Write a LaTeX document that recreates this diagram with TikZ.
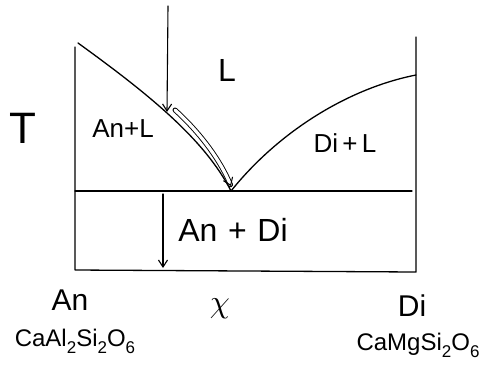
\documentclass[tikz,border=0pt]{standalone}
\usepackage{fontspec}
\setmainfont{Liberation Sans}
\usetikzlibrary{arrows.meta}
\newcommand\mysub[1]{\raisebox{-0.3em}{\fontsize{17}{17}\selectfont #1}}
\begin{document}
\begin{tikzpicture}[x=1pt,y=-1pt,
  ln/.style={line width=1.3pt, line cap=round, line join=round},
  thin/.style={line width=1.1pt, line cap=round},
  arr/.style={thin, -{Straight Barb[length=7pt,width=9pt,line width=1.1pt]}},
  lbl/.style={inner sep=0pt, font=\fontsize{#1}{#1}\selectfont},
]
\useasboundingbox (0,0) rectangle (484,373);
% frame
\coordinate (lt) at (75,47);
\coordinate (lb) at (75,270);
\coordinate (rt) at (416,37);
\coordinate (rb) at (416,272);
\coordinate (el) at (75,191);
\coordinate (er) at (412,191);
\coordinate (E) at (231,191);
\coordinate (Atop) at (78,43);
\coordinate (Dtop) at (416,75);
\draw[ln] (lt) -- (lb) -- (rb) -- (rt);
\draw[thin] (el) -- (er);
% liquidus curves
\draw[ln] (Atop) .. controls (150,95) and (205,140) .. (E);
\draw[ln] (E) .. controls (280,130) and (350,88) .. (Dtop);
% arrows
\coordinate (a1s) at (168,6);
\coordinate (a1e) at (167,112);
\draw[arr] (a1s) -- (a1e);
\coordinate (a2s) at (175,110);
\coordinate (a2e) at (231,186);
\draw[line width=0.9pt, double distance=3.2pt, line cap=round,
  -{Straight Barb[length=7pt,width=10pt,line width=1pt]}] (a2s) .. controls (195,128) and (218,155) .. (a2e);
\coordinate (a3s) at (163,194);
\coordinate (a3e) at (163,268);
\draw[arr] (a3s) -- (a3e);
% labels
\node[lbl=32] (L) at (227,70) {L};
\node[lbl=26] (AnL) at (123,129) {An+L};
\node[lbl=26] (DiL) at (345,143) {Di\,+\,L};
\node[lbl=32] (AnDi) at (233,230) {An\,\,+\,\,Di};
\node[lbl=44] (T) at (23,128) {T};
\node[lbl=30] (An) at (70,300) {An};
\node[lbl=24] (CaAl) at (75,341) {CaAl\mysub{2}Si\mysub{2}O\mysub{6}};
\node[inner sep=0pt, scale=3.2] (chi) at (220,309) {$\chi$};
\node[lbl=30] (Di) at (412,306) {Di};
\node[lbl=24] (CaMg) at (418,345) {CaMgSi\mysub{2}O\mysub{6}};
\end{tikzpicture}
\end{document}
